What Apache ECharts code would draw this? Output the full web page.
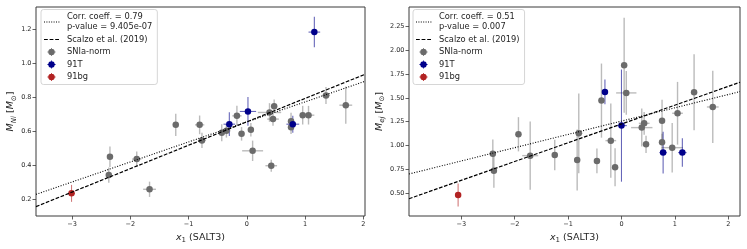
<!DOCTYPE html>
<html><head><meta charset="utf-8">
<script src="https://cdn.jsdelivr.net/npm/echarts@6/dist/echarts.min.js"></script>
<style>html,body{margin:0;padding:0;background:#fff}#c{width:747px;height:249px}</style>
</head><body><div id="c"></div>
<script>
// ---- tick labels ----
const xTicks = [-3, -2, -1, 0, 1, 2];
const niTicks = [0.2, 0.4, 0.6, 0.8, 1.0, 1.2];
const ejTicks = [0.5, 0.75, 1.0, 1.25, 1.5, 1.75, 2.0, 2.25];

// ---- left panel: [x1, M_Ni, x1 err, M_Ni err] ----
const niNorm = [
  [-2.37, 0.343, 0.05, 0.045], [-2.35, 0.451, 0.05, 0.06], [-1.89, 0.437, 0.08, 0.045],
  [-1.67, 0.259, 0.11, 0.045], [-1.22, 0.639, 0.05, 0.065], [-0.81, 0.639, 0.08, 0.055],
  [-0.77, 0.547, 0.07, 0.045], [-0.43, 0.592, 0.05, 0.05], [-0.35, 0.604, 0.07, 0.04],
  [-0.17, 0.692, 0.08, 0.06], [-0.09, 0.586, 0.05, 0.04], [0.07, 0.610, 0.05, 0.04],
  [0.10, 0.486, 0.18, 0.06], [0.39, 0.712, 0.20, 0.055], [0.47, 0.749, 0.05, 0.04],
  [0.45, 0.673, 0.10, 0.04], [0.42, 0.398, 0.10, 0.035], [0.76, 0.660, 0.05, 0.05],
  [0.76, 0.625, 0.05, 0.04], [0.96, 0.696, 0.05, 0.055], [1.06, 0.696, 0.10, 0.055],
  [1.36, 0.812, 0.07, 0.05], [1.70, 0.755, 0.11, 0.11]
];
const ni91T = [[-0.30, 0.643, 0.10, 0.07], [0.02, 0.718, 0.14, 0.085], [0.79, 0.643, 0.11, 0.05], [1.16, 1.186, 0.10, 0.09]];
const ni91bg = [[-3.01, 0.235, 0.06, 0.05]];
const niCorrLine = [[-3.62, 0.229], [2.03, 0.896]];
const niScalzoLine = [[-3.62, 0.157], [2.03, 0.937]];

// ---- right panel: [x1, M_ej, x1 err, M_ej err] ----
const ejNorm = [
  [-2.41, 0.914, 0.06, 0.15], [-2.39, 0.735, 0.05, 0.18], [-1.93, 1.118, 0.05, 0.18],
  [-1.71, 0.893, 0.15, 0.36], [-1.25, 0.900, 0.05, 0.16], [-0.83, 0.847, 0.05, 0.32],
  [-0.80, 1.128, 0.07, 0.42], [-0.46, 0.837, 0.05, 0.13], [-0.375, 1.472, 0.05, 0.39],
  [-0.20, 1.051, 0.10, 0.39], [-0.12, 0.770, 0.05, 0.20], [0.05, 1.844, 0.05, 0.50],
  [0.09, 1.553, 0.19, 0.23], [0.38, 1.188, 0.20, 0.20], [0.425, 1.233, 0.10, 0.12],
  [0.46, 1.012, 0.05, 0.09], [0.76, 1.261, 0.05, 0.22], [0.76, 1.033, 0.05, 0.09],
  [0.95, 0.977, 0.20, 0.26], [1.05, 1.339, 0.10, 0.33], [1.36, 1.560, 0.05, 0.40],
  [1.71, 1.405, 0.11, 0.38]
];
const ej91T = [[-0.31, 1.563, 0.05, 0.13], [0.00, 1.209, 0.10, 0.59], [0.78, 0.925, 0.07, 0.22], [1.14, 0.925, 0.08, 0.15]];
const ej91bg = [[-3.06, 0.479, 0.04, 0.12]];
const ejCorrLine = [[-3.98, 0.700], [2.22, 1.567]];
const ejScalzoLine = [[-3.98, 0.440], [2.22, 1.665]];

const corrNameL = 'Corr. coeff. = 0.79\np-value = 9.405e-07';
const corrNameR = 'Corr. coeff. = 0.51\np-value = 0.007';
const scalzoName = 'Scalzo et al. (2019)';
const normName = 'SNIa-norm', t91Name = '91T', bg91Name = '91bg';

// ---- styling ----
const FONT = 'DejaVu Sans';
const TXT = '#262626';
const AX = '#3a3a3a';
const cGray = '#6b6b6b', cBlue = '#00008b', cRed = '#b22222';
const ebGray = 'rgba(105,105,105,0.45)', ebBlue = 'rgba(0,0,139,0.6)', ebRed = 'rgba(178,34,34,0.6)';

const anchor = 'M0,0M18,8';
let dots = '';
for (let i = 0; i < 7; i++) dots += 'M' + (i * 2.4) + ',3.5h1v1h-1z';
const dottedIcon = 'path://' + anchor + dots;
const dashedIcon = 'path://' + anchor + 'M0,3.4h3.8v1.2h-3.8zM5.6,3.4h3.8v1.2h-3.8zM11.2,3.4h3.8v1.2h-3.8z';
const markerIcon = 'path://' + anchor + 'M4.3,4a3.2,3.2 0 1,1 6.4,0a3.2,3.2 0 1,1 -6.4,0zM7.1,0h0.8v8h-0.8zM3.5,3.6h8v0.8h-8z';

function fmtX(v) { return (v < 0 ? '\u2212' : '') + Math.abs(v); }

const nameRich = {
  i: { fontFamily: FONT, fontStyle: 'italic', fontSize: 9.5, color: TXT, lineHeight: 13 },
  n: { fontFamily: FONT, fontSize: 9.5, color: TXT, lineHeight: 13 },
  s: { fontFamily: FONT, fontSize: 7, color: TXT, lineHeight: 13, verticalAlign: 'bottom' },
  si: { fontFamily: FONT, fontStyle: 'italic', fontSize: 7, color: TXT, lineHeight: 13, verticalAlign: 'bottom' }
};

function xAxis(gi, min, max) {
  return {
    type: 'value', gridIndex: gi, min: min, max: max,
    axisLine: { show: false, onZero: false },
    axisTick: { show: true, length: 3.5, lineStyle: { color: AX, width: 0.8 }, customValues: xTicks },
    axisLabel: { customValues: xTicks, fontFamily: FONT, fontSize: 6.5, color: TXT, margin: 4.5, formatter: fmtX },
    splitLine: { show: false },
    name: '{i|x}{s|1}{n| (SALT3)}', nameLocation: 'middle', nameGap: 11,
    nameTextStyle: { fontFamily: FONT, fontSize: 9.5, color: TXT, rich: nameRich }
  };
}
function yAxis(gi, min, max, ticks, dec, nm, gap) {
  return {
    type: 'value', gridIndex: gi, min: min, max: max,
    axisLine: { show: false, onZero: false },
    axisTick: { show: true, length: 3.5, lineStyle: { color: AX, width: 0.8 }, customValues: ticks },
    axisLabel: { customValues: ticks, fontFamily: FONT, fontSize: 6.5, color: TXT, margin: 4.5, formatter: v => v.toFixed(dec) },
    splitLine: { show: false },
    name: nm, nameLocation: 'middle', nameRotate: 90, nameGap: gap,
    nameTextStyle: { fontFamily: FONT, fontSize: 9.5, color: TXT, rich: nameRich }
  };
}

function errSeries(gi, name, data, color, width) {
  return {
    type: 'custom', name: name, xAxisIndex: gi, yAxisIndex: gi, data: data, z: 2, silent: true, clip: true,
    encode: { x: 0, y: 1 },
    renderItem: function (params, api) {
      const x = api.value(0), y = api.value(1), xe = api.value(2), ye = api.value(3);
      const a = api.coord([x - xe, y]), b = api.coord([x + xe, y]);
      const c = api.coord([x, y - ye]), d = api.coord([x, y + ye]);
      const st = { stroke: color, lineWidth: width, fill: null };
      return { type: 'group', children: [
        { type: 'line', shape: { x1: a[0], y1: a[1], x2: b[0], y2: b[1] }, style: st },
        { type: 'line', shape: { x1: c[0], y1: c[1], x2: d[0], y2: d[1] }, style: st }
      ] };
    }
  };
}
function ptSeries(gi, name, data, color) {
  return {
    type: 'scatter', name: name, xAxisIndex: gi, yAxisIndex: gi, data: data, z: 3,
    symbol: 'circle', symbolSize: 6.5, itemStyle: { color: color, opacity: 1 }, encode: { x: 0, y: 1 }
  };
}
function lineSeries(gi, name, data, dash, w) {
  return {
    type: 'line', name: name, xAxisIndex: gi, yAxisIndex: gi, data: data, z: 4,
    symbol: 'none', showSymbol: false, silent: true,
    lineStyle: { color: '#000', width: w, type: dash }, itemStyle: { color: '#000' }
  };
}
function panelSeries(gi, norm, t, bg, corr, scal, corrName) {
  return [
    ptSeries(gi, normName, norm, cGray),
    ptSeries(gi, t91Name, t, cBlue),
    ptSeries(gi, bg91Name, bg, cRed),
    errSeries(gi, normName, norm, ebGray, 1.4),
    errSeries(gi, t91Name, t, ebBlue, 1.1),
    errSeries(gi, bg91Name, bg, ebRed, 1.1),
    lineSeries(gi, corrName, corr, [1, 1.6], 1.1),
    lineSeries(gi, scalzoName, scal, [3.7, 1.6], 1.2)
  ];
}
function legend(left, corrName) {
  return {
    left: left, top: 9.5, orient: 'vertical', itemWidth: 18, itemHeight: 8, itemGap: 2.5,
    padding: [2.5, 5, 2.5, 3], backgroundColor: 'rgba(255,255,255,0.85)',
    borderColor: '#cccccc', borderWidth: 0.8, borderRadius: 2.5, selectedMode: false,
    textStyle: { fontFamily: FONT, fontSize: 8.3, color: TXT, lineHeight: 10 },
    data: [
      { name: corrName, icon: dottedIcon, itemStyle: { color: '#000', borderWidth: 0 } },
      { name: scalzoName, icon: dashedIcon, itemStyle: { color: '#000', borderWidth: 0 } },
      { name: normName, icon: markerIcon, itemStyle: { color: cGray, borderWidth: 0 } },
      { name: t91Name, icon: markerIcon, itemStyle: { color: cBlue, borderWidth: 0 } },
      { name: bg91Name, icon: markerIcon, itemStyle: { color: cRed, borderWidth: 0 } }
    ]
  };
}

const chart = echarts.init(document.getElementById('c'), null, { renderer: 'canvas' });
chart.setOption({
  animation: false,
  backgroundColor: '#fff',
  grid: [
    { left: 36, top: 7, width: 329, height: 209, show: true, borderColor: AX, borderWidth: 1, backgroundColor: 'transparent' },
    { left: 409, top: 7, width: 331, height: 209, show: true, borderColor: AX, borderWidth: 1, backgroundColor: 'transparent' }
  ],
  xAxis: [xAxis(0, -3.62, 2.03), xAxis(1, -3.98, 2.22)],
  yAxis: [
    yAxis(0, 0.1015, 1.334, niTicks, 1, '{i|M}{si|Ni}{n| [}{i|M}{s|\u2299}{n|]}', 17),
    yAxis(1, 0.258, 2.457, ejTicks, 2, '{i|M}{si|ej}{n| [}{i|M}{s|\u2299}{n|]}', 22)
  ],
  legend: [legend(41, corrNameL), legend(413, corrNameR)],
  series: [].concat(
    panelSeries(0, niNorm, ni91T, ni91bg, niCorrLine, niScalzoLine, corrNameL),
    panelSeries(1, ejNorm, ej91T, ej91bg, ejCorrLine, ejScalzoLine, corrNameR)
  )
});
</script>
</body></html>
